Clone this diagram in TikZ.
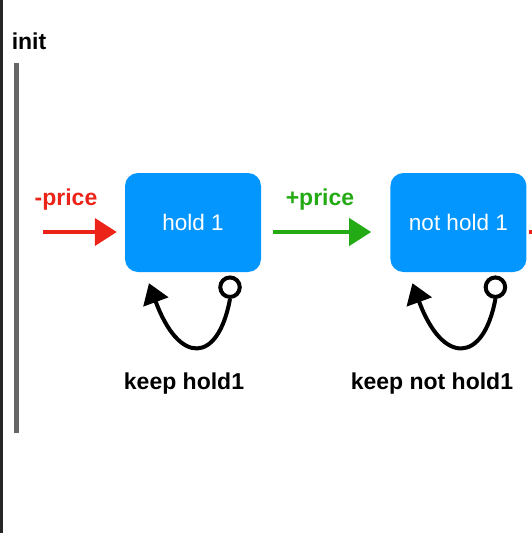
\documentclass[tikz,border=0pt]{standalone}
\usepackage{fontspec}
\setmainfont{Liberation Sans}
\usetikzlibrary{arrows.meta, positioning}
\definecolor{boxblue}{RGB}{4,150,255}
\definecolor{buyred}{RGB}{235,35,25}
\definecolor{sellgreen}{RGB}{35,170,20}
\tikzstyle{state} = [rectangle, rounded corners=13pt, minimum width=136pt, minimum height=99pt, inner sep=0pt, text centered, fill=boxblue, text=white, font=\fontsize{22.5}{26}\selectfont]
\tikzstyle{tag} = [inner sep=0pt, font=\bfseries\fontsize{23}{27}\selectfont]
\tikzstyle{dot} = [circle, draw=black, line width=4pt, minimum size=19.5pt, inner sep=0pt]
\tikzstyle{redarrow} = [buyred, line width=4pt, -{Triangle[length=22pt,width=27pt]}]
\tikzstyle{greenarrow} = [sellgreen, line width=4pt, -{Triangle[length=22pt,width=27pt]}]
\tikzstyle{loop-arrow} = [black, line width=4pt, -{Triangle[length=20pt,width=26pt]}]

\begin{document}
\begin{tikzpicture}[x=1pt, y=1pt]

   	\useasboundingbox (0,0) rectangle (531,-533);
   	\draw [line width=3pt, black!85] (1.5,0) -- (1.5,-533);

   	\node (init) [tag] at (29,-41) {init};
   	\draw [line width=4.5pt, black!60] (16.5,-63) -- (16.5,-433);

   	\node (hold1) [state] at (193,-222.5) {hold 1};
   	\node (nothold1) [state, right=129pt of hold1] {not hold 1};

   	\node (buy) [tag, text=buyred] at (66,-200) {-price};
   	\node (sell) [tag, text=sellgreen] at (320,-200) {+price};

   	\coordinate (buystart) at (43,-232);
   	\coordinate (buyend) at ([xshift=-8pt, yshift=-9.5pt]hold1.west);
   	\coordinate (sellstart) at ([xshift=12pt, yshift=-9.5pt]hold1.east);
   	\coordinate (sellend) at ([xshift=-19pt, yshift=-9.5pt]nothold1.west);
   	\coordinate (nextstart) at ([xshift=2pt, yshift=-9.5pt]nothold1.east);
   	\coordinate (nextend) at ([xshift=80pt]nextstart);

   	\node (dot1) [dot] at ([xshift=37pt, yshift=-15pt]hold1.south) {};
   	\coordinate (tip1) at ([xshift=-44pt, yshift=-11pt]hold1.south);
   	\node (dot2) [dot] at ([xshift=37pt, yshift=-15pt]nothold1.south) {};
   	\coordinate (tip2) at ([xshift=-46pt, yshift=-11pt]nothold1.south);

   	\node (keep1) [tag] at ([xshift=-9pt, yshift=-111pt]hold1.south) {keep hold1};
   	\node (keep2) [tag] at ([xshift=-26.5pt, yshift=-111pt]nothold1.south) {keep not hold1};

   	\draw [redarrow] (buystart) -- (buyend);
   	\draw [greenarrow] (sellstart) -- (sellend);
   	\draw [redarrow] (nextstart) -- (nextend);
   	\draw [loop-arrow] (dot1.south) .. controls +(-12,-65) and +(30,-82) .. (tip1);
   	\draw [loop-arrow] (dot2.south) .. controls +(-12,-65) and +(30,-82) .. (tip2);

\end{tikzpicture}
\end{document}
